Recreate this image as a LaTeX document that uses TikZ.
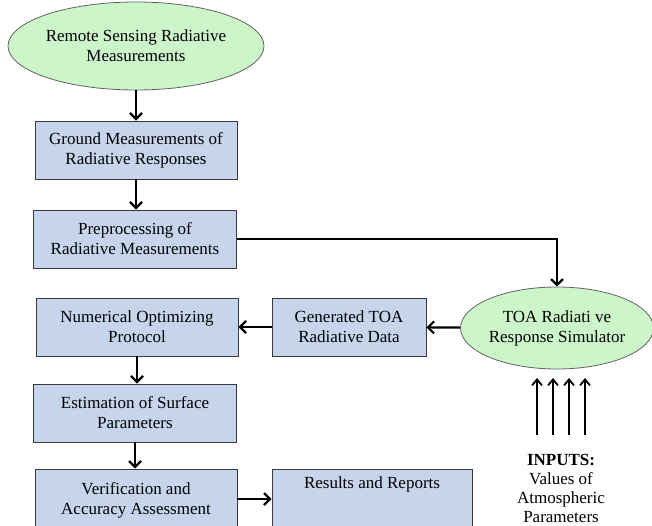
\documentclass[tikz,border=0pt]{standalone}
\usepackage{fontspec}
\setmainfont{Liberation Serif}
\usetikzlibrary{arrows.meta,shapes.geometric}
\definecolor{boxblue}{HTML}{C6D5EC}
\definecolor{ellgreen}{HTML}{CDF5CA}
\definecolor{edgegray}{HTML}{3A3A3A}
\tikzset{
  every node/.style={font=\rmfamily\fontsize{17}{20}\selectfont, align=center},
  procbox/.style={draw=edgegray, line width=0.9pt, fill=boxblue, rectangle, inner sep=0pt},
  oval/.style={draw=edgegray!80, line width=0.8pt, fill=ellgreen, ellipse, inner sep=0pt},
  flow/.style={line width=2.2pt, -{Straight Barb[length=6pt,width=12pt,line width=2.2pt]}},
  inarrow/.style={line width=1.8pt, -{Straight Barb[length=6pt,width=10pt,line width=1.8pt]}}
}
\begin{document}
\begin{tikzpicture}[x=1pt,y=-1pt]
\useasboundingbox (0,0) rectangle (652,526);
\node[oval, minimum width=256, minimum height=88] (rs) at (136,46) {Remote Sensing Radiative\\Measurements};
\node[procbox, minimum width=202, minimum height=58] (gm) at (136,150) {Ground Measurements of\\Radiative Responses};
\node[procbox, minimum width=203, minimum height=58] (pp) at (135,239) {Preprocessing of\\Radiative Measurements};
\node[procbox, minimum width=202, minimum height=58] (no) at (137,327) {Numerical Optimizing\\Protocol};
\node[procbox, minimum width=154, minimum height=58] (gt) at (349,327) {Generated TOA\\Radiative Data};
\node[oval, minimum width=192, minimum height=82] (sim) at (557,328) {TOA Radiati ve\\Response Simulator};
\node[procbox, minimum width=203, minimum height=58] (es) at (135,413) {Estimation of Surface\\Parameters};
\node[procbox, minimum width=202, minimum height=62] (va) at (136,500) {Verification and\\Accuracy Assessment};
\node[procbox, minimum width=200, minimum height=62] (rr) at (372,500) {};
\node[anchor=north, inner sep=0pt] (rrt) at ([yshift=-8pt]rr.north) {Results and Reports};
\node[font=\rmfamily\fontsize{17}{19}\selectfont, inner sep=0pt] (inp) at (561,488) {\textbf{INPUTS:}\\Values of\\Atmospheric\\Parameters};
\draw[flow] (rs.south |- 0,90) -- (gm.north -| rs.south);
\draw[flow] (gm.south) -- (pp.north -| gm.south);
\draw[flow] (pp.east) -| (sim.north);
\draw[flow] (sim) -- (gt);
\draw[flow] (gt) -- (no);
\draw[flow] (no.south) -- (es.north -| no.south);
\draw[flow] (es.south) -- (va.north -| es.south);
\draw[flow] (va.east |- 0,499) coordinate (vaout) -- (rr.west |- vaout);
\foreach \i/\x in {1/537,2/553,3/569,4/585}{
  \coordinate (a\i) at (\x,435);
  \coordinate (b\i) at (\x,378);
  \draw[inarrow] (a\i) -- (b\i);
}
\end{tikzpicture}
\end{document}
